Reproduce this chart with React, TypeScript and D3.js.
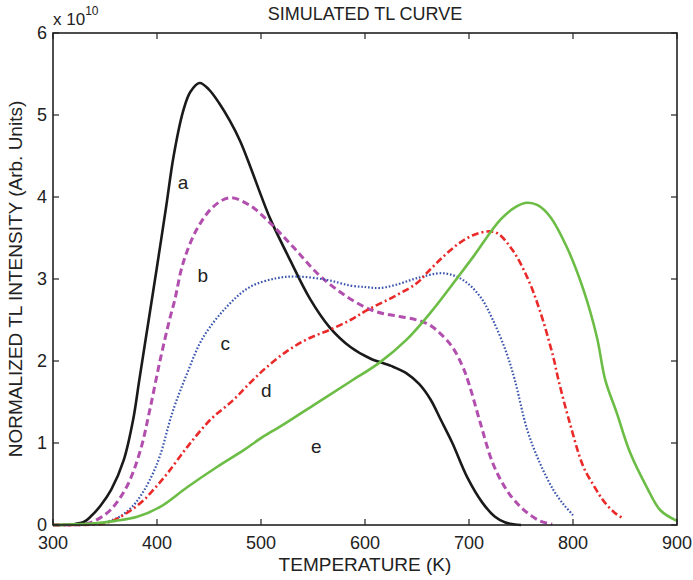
import * as d3 from "d3"
import React from "react"

// temperature (K), normalized TL intensity (x 1e10)
const curveA: [number, number][] = [[300,0],[320,0.01],[330,0.04],[336,0.1],[346,0.24],[356,0.43],[368,0.79],[377,1.28],[383,1.77],[392,2.5],[400,3.15],[409,3.9],[416,4.5],[425,5.04],[432,5.28],[441,5.39],[450,5.31],[460,5.14],[470,4.93],[480,4.68],[490,4.36],[500,4.02],[509,3.73],[528,3.23],[547,2.76],[566,2.41],[586,2.17],[605,2.03],[625,1.94],[640,1.85],[652,1.72],[663,1.53],[673,1.28],[684,1.0],[698,0.59],[713,0.27],[725,0.1],[735,0.03],[750,0]]
const curveB: [number, number][] = [[300,0],[330,0.01],[340,0.05],[355,0.18],[371,0.47],[384,0.91],[393,1.4],[403,2.01],[412,2.5],[417,2.74],[425,3.19],[438,3.6],[454,3.88],[470,3.99],[489,3.9],[509,3.68],[531,3.39],[554,3.07],[573,2.87],[592,2.71],[611,2.6],[630,2.55],[650,2.5],[662,2.44],[672,2.34],[684,2.17],[694,1.93],[700,1.72],[711,1.24],[723,0.75],[736,0.43],[748,0.24],[756,0.15],[768,0.05],[780,0.01]]
const curveC: [number, number][] = [[300,0],[340,0.01],[352,0.04],[364,0.1],[376,0.22],[386,0.39],[395,0.6],[403,0.85],[415,1.38],[429,1.85],[444,2.28],[467,2.66],[489,2.9],[515,3.01],[535,3.03],[563,2.99],[586,2.92],[602,2.9],[614,2.89],[630,2.93],[650,3.01],[675,3.07],[694,2.99],[711,2.78],[723,2.5],[736,2.1],[744,1.77],[756,1.16],[768,0.76],[781,0.43],[791,0.25],[800,0.12]]
const curveD: [number, number][] = [[300,0],[345,0.01],[355,0.04],[362,0.08],[375,0.18],[387,0.3],[398,0.45],[410,0.63],[429,0.95],[451,1.28],[473,1.52],[490,1.74],[505,1.92],[525,2.12],[545,2.27],[566,2.38],[586,2.5],[602,2.62],[630,2.8],[650,2.95],[660,3.08],[675,3.27],[691,3.44],[705,3.54],[718,3.58],[727,3.56],[742,3.35],[756,3.02],[768,2.62],[781,2.05],[786,1.77],[797,1.24],[810,0.71],[820,0.48],[829,0.3],[840,0.15],[847,0.09]]
const curveE: [number, number][] = [[300,0],[340,0.02],[360,0.05],[381,0.1],[403,0.22],[429,0.46],[458,0.71],[483,0.91],[500,1.06],[521,1.22],[554,1.49],[586,1.75],[614,1.98],[640,2.26],[663,2.59],[682,2.9],[704,3.27],[730,3.72],[745,3.88],[756,3.93],[766,3.9],[778,3.76],[794,3.39],[810,2.87],[823,2.29],[831,1.77],[842,1.37],[855,0.88],[871,0.46],[884,0.18],[900,0.05]]

const labels = ["a", "b", "c", "d", "e"]
const labelPos: [number, number][] = [[420, 4.1], [439, 2.96], [461, 2.13], [500, 1.56], [548, 0.88]]
const xTickVals = [300, 400, 500, 600, 700, 800, 900]
const yTickVals = [0, 1, 2, 3, 4, 5, 6]

const series = [
  { data: curveA, color: "#1a1a1a", dash: "none", width: 2.6 },
  { data: curveB, color: "#b24fae", dash: "7 4", width: 3 },
  { data: curveC, color: "#3a55ad", dash: "1.6 1.9", width: 2.2 },
  { data: curveD, color: "#ea2a2a", dash: "7 3 2 3", width: 2.6 },
  { data: curveE, color: "#6cbd45", dash: "none", width: 2.6 },
]

export default function App() {
  const W = 693, H = 580
  const m = { left: 53, right: 16, top: 33, bottom: 55 }
  const x = d3.scaleLinear().domain([300, 900]).range([m.left, W - m.right])
  const y = d3.scaleLinear().domain([0, 6]).range([H - m.bottom, m.top])
  const line = d3.line<[number, number]>().curve(d3.curveCatmullRom.alpha(0.5)).x(d => x(d[0])).y(d => y(d[1]))
  const font = "'Liberation Sans', Arial, sans-serif"
  const x0 = x(300), x1 = x(900), y0 = y(0), y1 = y(6)
  return (
    <div style={{ position: "absolute", left: 0, top: 0 }}>
      <svg width={W} height={H} style={{ display: "block", background: "#fff" }} fontFamily={font}>
        {series.map((s, i) => (
          <path key={i} d={line(s.data) || ""} fill="none" stroke={s.color} strokeWidth={s.width}
            strokeDasharray={s.dash} strokeLinejoin="round" />
        ))}
        {labels.map((l, i) => (
          <text key={l} x={x(labelPos[i][0])} y={y(labelPos[i][1])} fontSize={19} fill="#222">{l}</text>
        ))}
        <rect x={x0} y={y1} width={x1 - x0} height={y0 - y1} fill="none" stroke="#222" strokeWidth={1.6} />
        {xTickVals.map(t => (
          <g key={t}>
            <line x1={x(t)} x2={x(t)} y1={y0} y2={y0 - 6} stroke="#222" strokeWidth={1.2} />
            <line x1={x(t)} x2={x(t)} y1={y1} y2={y1 + 6} stroke="#222" strokeWidth={1.2} />
            <text x={x(t)} y={549} textAnchor="middle" fontSize={18} fill="#222">{t}</text>
          </g>
        ))}
        {yTickVals.map(t => (
          <g key={t}>
            <line x1={x0} x2={x0 + 6} y1={y(t)} y2={y(t)} stroke="#222" strokeWidth={1.2} />
            <line x1={x1} x2={x1 - 6} y1={y(t)} y2={y(t)} stroke="#222" strokeWidth={1.2} />
            <text x={x0 - 6} y={y(t) + 6} textAnchor="end" fontSize={18} fill="#222">{t}</text>
          </g>
        ))}
        <text x={53} y={25} fontSize={17} fill="#222">x 10<tspan dy={-10} fontSize={12}>10</tspan></text>
        <text x={(x0 + x1) / 2} y={20} textAnchor="middle" fontSize={18} fill="#222">SIMULATED TL CURVE</text>
        <text x={(x0 + x1) / 2} y={571} textAnchor="middle" fontSize={19} fill="#222">TEMPERATURE (K)</text>
        <text transform={`translate(22,${(y0 + y1) / 2}) rotate(-90)`} textAnchor="middle" fontSize={19} fill="#222">
          NORMALIZED TL INTENSITY (Arb. Units)
        </text>
      </svg>
    </div>
  )
}
